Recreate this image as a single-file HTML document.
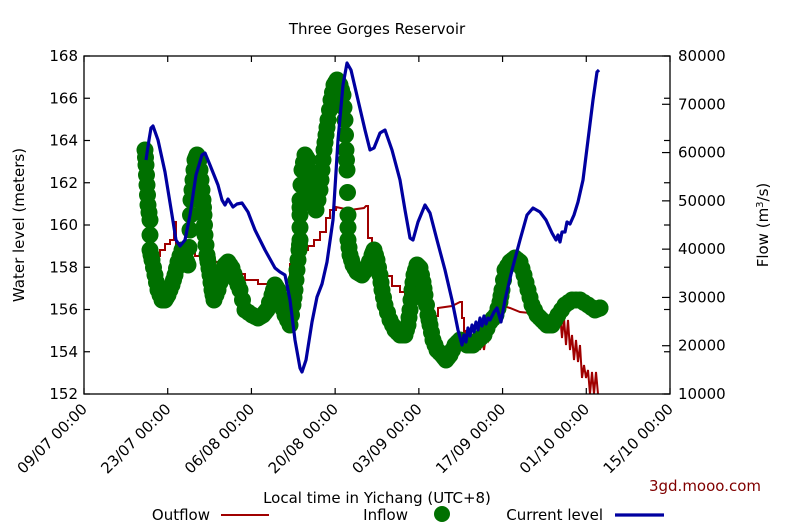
<!DOCTYPE html>
<html><head><meta charset="utf-8"><style>
html,body{margin:0;padding:0;background:#fff}
svg{display:block;font-family:"DejaVu Sans","Liberation Sans",sans-serif}
</style></head><body>
<svg width="800" height="532" viewBox="0 0 800 532">
<rect width="800" height="532" fill="#fff"/>
<text x="377" y="34" font-size="15" text-anchor="middle">Three Gorges Reservoir</text>
<g id="data">
<polyline fill="none" stroke="#a00000" stroke-width="2" points="146,268 150,268 150,262 155,262 155,256 160,256 160,250 165,250 165,244 170,244 170,240 174,240 174,222 176,222 176,246 182,246 182,252 195,252 195,256 210,256 210,262 222,262 222,268 232,268 232,274 245,274 245,280 258,280 258,284 272,284 272,290 290,290 290,264 296,264 296,258 302,258 302,250 308,250 308,246 314,246 314,240 320,240 320,232 326,232 326,218 330,218 330,210 336,210 336,207 350,210 364,208 366,206 368,206 368,238 372,238 372,262 378,262 378,276 392,276 392,286 400,286 400,292 405,292 405,300 412,300 412,292 420,292 422,288 424,302 430,302 434,316 438,316 438,308 452,306 460,302 462,302 462,318 464,318 464,345 466,330 468,345 470,330 472,348 474,332 476,350 478,335 480,350 482,338 484,350 486,336 488,340 490,320 495,310 500,305 510,308 520,312 540,314 548,316 554,314 560,314 562,338 564,318 566,345 568,320 570,350 572,335 574,360 576,340 578,362 580,345 582,378 584,365 586,378 588,370 590,394 592,372 594,394 596,372 598,394"/>
<g fill="#007000" id="g"></g>
<polyline fill="none" stroke="#0000a0" stroke-width="3.2" stroke-linejoin="round" points="146,160 149,140 151,128 153,126 158,140 165,172 172,215 176,240 180,246 185,240 190,215 196,175 202,155 205,153 210,165 218,185 222,200 225,205 228,199 233,207 237,204 242,203 248,212 255,230 265,250 275,268 280,272 285,275 290,300 295,340 300,368 302,372 306,360 312,322 317,297 322,284 327,262 333,220 338,140 343,85 347,63 351,70 358,100 365,130 370,150 374,148 380,133 385,130 392,150 400,180 405,210 410,238 413,240 418,222 425,205 430,213 437,240 445,270 452,300 458,330 462,345 464,335 466,342 468,328 470,336 472,325 474,332 476,322 478,330 480,318 482,326 484,316 486,324 488,318 490,320 494,312 497,308 501,322 505,300 512,270 520,240 527,215 533,208 540,212 546,220 552,233 556,240 558,235 560,242 562,232 565,232 567,222 570,224 574,215 578,202 583,180 588,140 593,100 597,72 599,70"/>
</g>
<rect x="84" y="56" width="586" height="338" fill="none" stroke="#000" stroke-width="1.3"/>
<g stroke="#000" stroke-width="1.2" id="ticks"></g>
<g font-size="15" id="labels"></g>
<text transform="translate(24,225) rotate(-90)" font-size="15" text-anchor="middle">Water level (meters)</text>
<text transform="translate(768,225) rotate(-90)" font-size="15" text-anchor="middle">Flow (m<tspan font-size="10" dy="-5">3</tspan><tspan dy="5">/s)</tspan></text>
<text x="377" y="503" font-size="15" text-anchor="middle">Local time in Yichang (UTC+8)</text>
<text x="705" y="491" font-size="15" text-anchor="middle" fill="#800000">3gd.mooo.com</text>
<text x="210" y="520" font-size="15" text-anchor="end">Outflow</text>
<line x1="221" y1="515" x2="269" y2="515" stroke="#a00000" stroke-width="2"/>
<text x="408" y="520" font-size="15" text-anchor="end">Inflow</text>
<circle cx="442" cy="514" r="8" fill="#007000"/>
<text x="603" y="520" font-size="15" text-anchor="end">Current level</text>
<line x1="615" y1="515" x2="664" y2="515" stroke="#0000a0" stroke-width="3.2"/>
</svg>
<script>
var NS="http://www.w3.org/2000/svg";
var pts=[[145,150],[146,165],[147,185],[148,205],[150,220],[150,250],[152,260],[155,275],[158,290],[162,300],[165,300],[168,295],[172,285],[175,275],[178,262],[182,250],[186,260],[188,265],[190,230],[191,200],[193,180],[195,160],[197,155],[199,160],[201,180],[203,200],[204,215],[205,235],[207,255],[208,262],[210,275],[212,290],[214,300],[218,290],[222,275],[225,265],[228,262],[232,268],[236,280],[240,290],[245,310],[252,315],[258,318],[263,315],[267,310],[272,295],[275,285],[278,290],[281,303],[285,315],[290,325],[293,305],[295,290],[297,270],[299,250],[300,240],[300,215],[300,200],[302,170],[305,155],[308,160],[310,180],[313,200],[316,210],[320,190],[322,170],[324,150],[326,135],[328,120],[331,100],[334,85],[337,80],[340,85],[343,95],[345,120],[346,150],[347,170],[348,215],[348,240],[350,255],[353,265],[357,272],[362,275],[367,268],[372,255],[374,250],[377,260],[380,275],[382,290],[385,305],[390,320],[395,330],[400,335],[405,335],[408,325],[410,310],[412,290],[414,275],[417,265],[420,268],[423,282],[425,295],[428,315],[430,325],[433,340],[437,350],[442,355],[446,360],[450,355],[455,345],[460,340],[467,345],[473,345],[478,340],[484,335],[490,322],[496,315],[500,302],[502,290],[505,270],[510,262],[515,258],[520,262],[524,275],[528,290],[532,305],[537,315],[542,320],[547,325],[552,325],[558,315],[565,305],[572,300],[580,300],[588,305],[595,310],[600,308]];
var g=document.getElementById("g");
for(var i=0;i<pts.length;i++){var a=pts[i],b=pts[i+1]||a;for(var t=0;t<1;t+=0.5){var c=document.createElementNS(NS,"circle");c.setAttribute("cx",a[0]+(b[0]-a[0])*t);c.setAttribute("cy",a[1]+(b[1]-a[1])*t);c.setAttribute("r",8.5);g.appendChild(c);}}
var tk=document.getElementById("ticks"),lb=document.getElementById("labels");
function L(x1,y1,x2,y2){var l=document.createElementNS(NS,"line");l.setAttribute("x1",x1);l.setAttribute("y1",y1);l.setAttribute("x2",x2);l.setAttribute("y2",y2);tk.appendChild(l);}
function T(x,y,s,anc,tr){var e=document.createElementNS(NS,"text");e.setAttribute("x",x);e.setAttribute("y",y);e.setAttribute("text-anchor",anc);if(tr)e.setAttribute("transform",tr);e.textContent=s;lb.appendChild(e);}
for(var v=152;v<=168;v+=2){var y=394-(v-152)*338/16;L(84,y,90,y);L(670,y,664,y);T(78,y+5,v,"end");}
for(var f=10000;f<=80000;f+=10000){var y=394-(f-10000)*338/70000;L(670,y,662,y);T(678,y+5,f,"start");}
var xl=["09/07 00:00","23/07 00:00","06/08 00:00","20/08 00:00","03/09 00:00","17/09 00:00","01/10 00:00","15/10 00:00"];
for(var i=0;i<8;i++){var x=84+i*586/7;L(x,394,x,388);L(x,56,x,62);T(x+4,410,xl[i],"end","rotate(-45 "+(x+4)+" 410)");}
</script>
</body></html>
